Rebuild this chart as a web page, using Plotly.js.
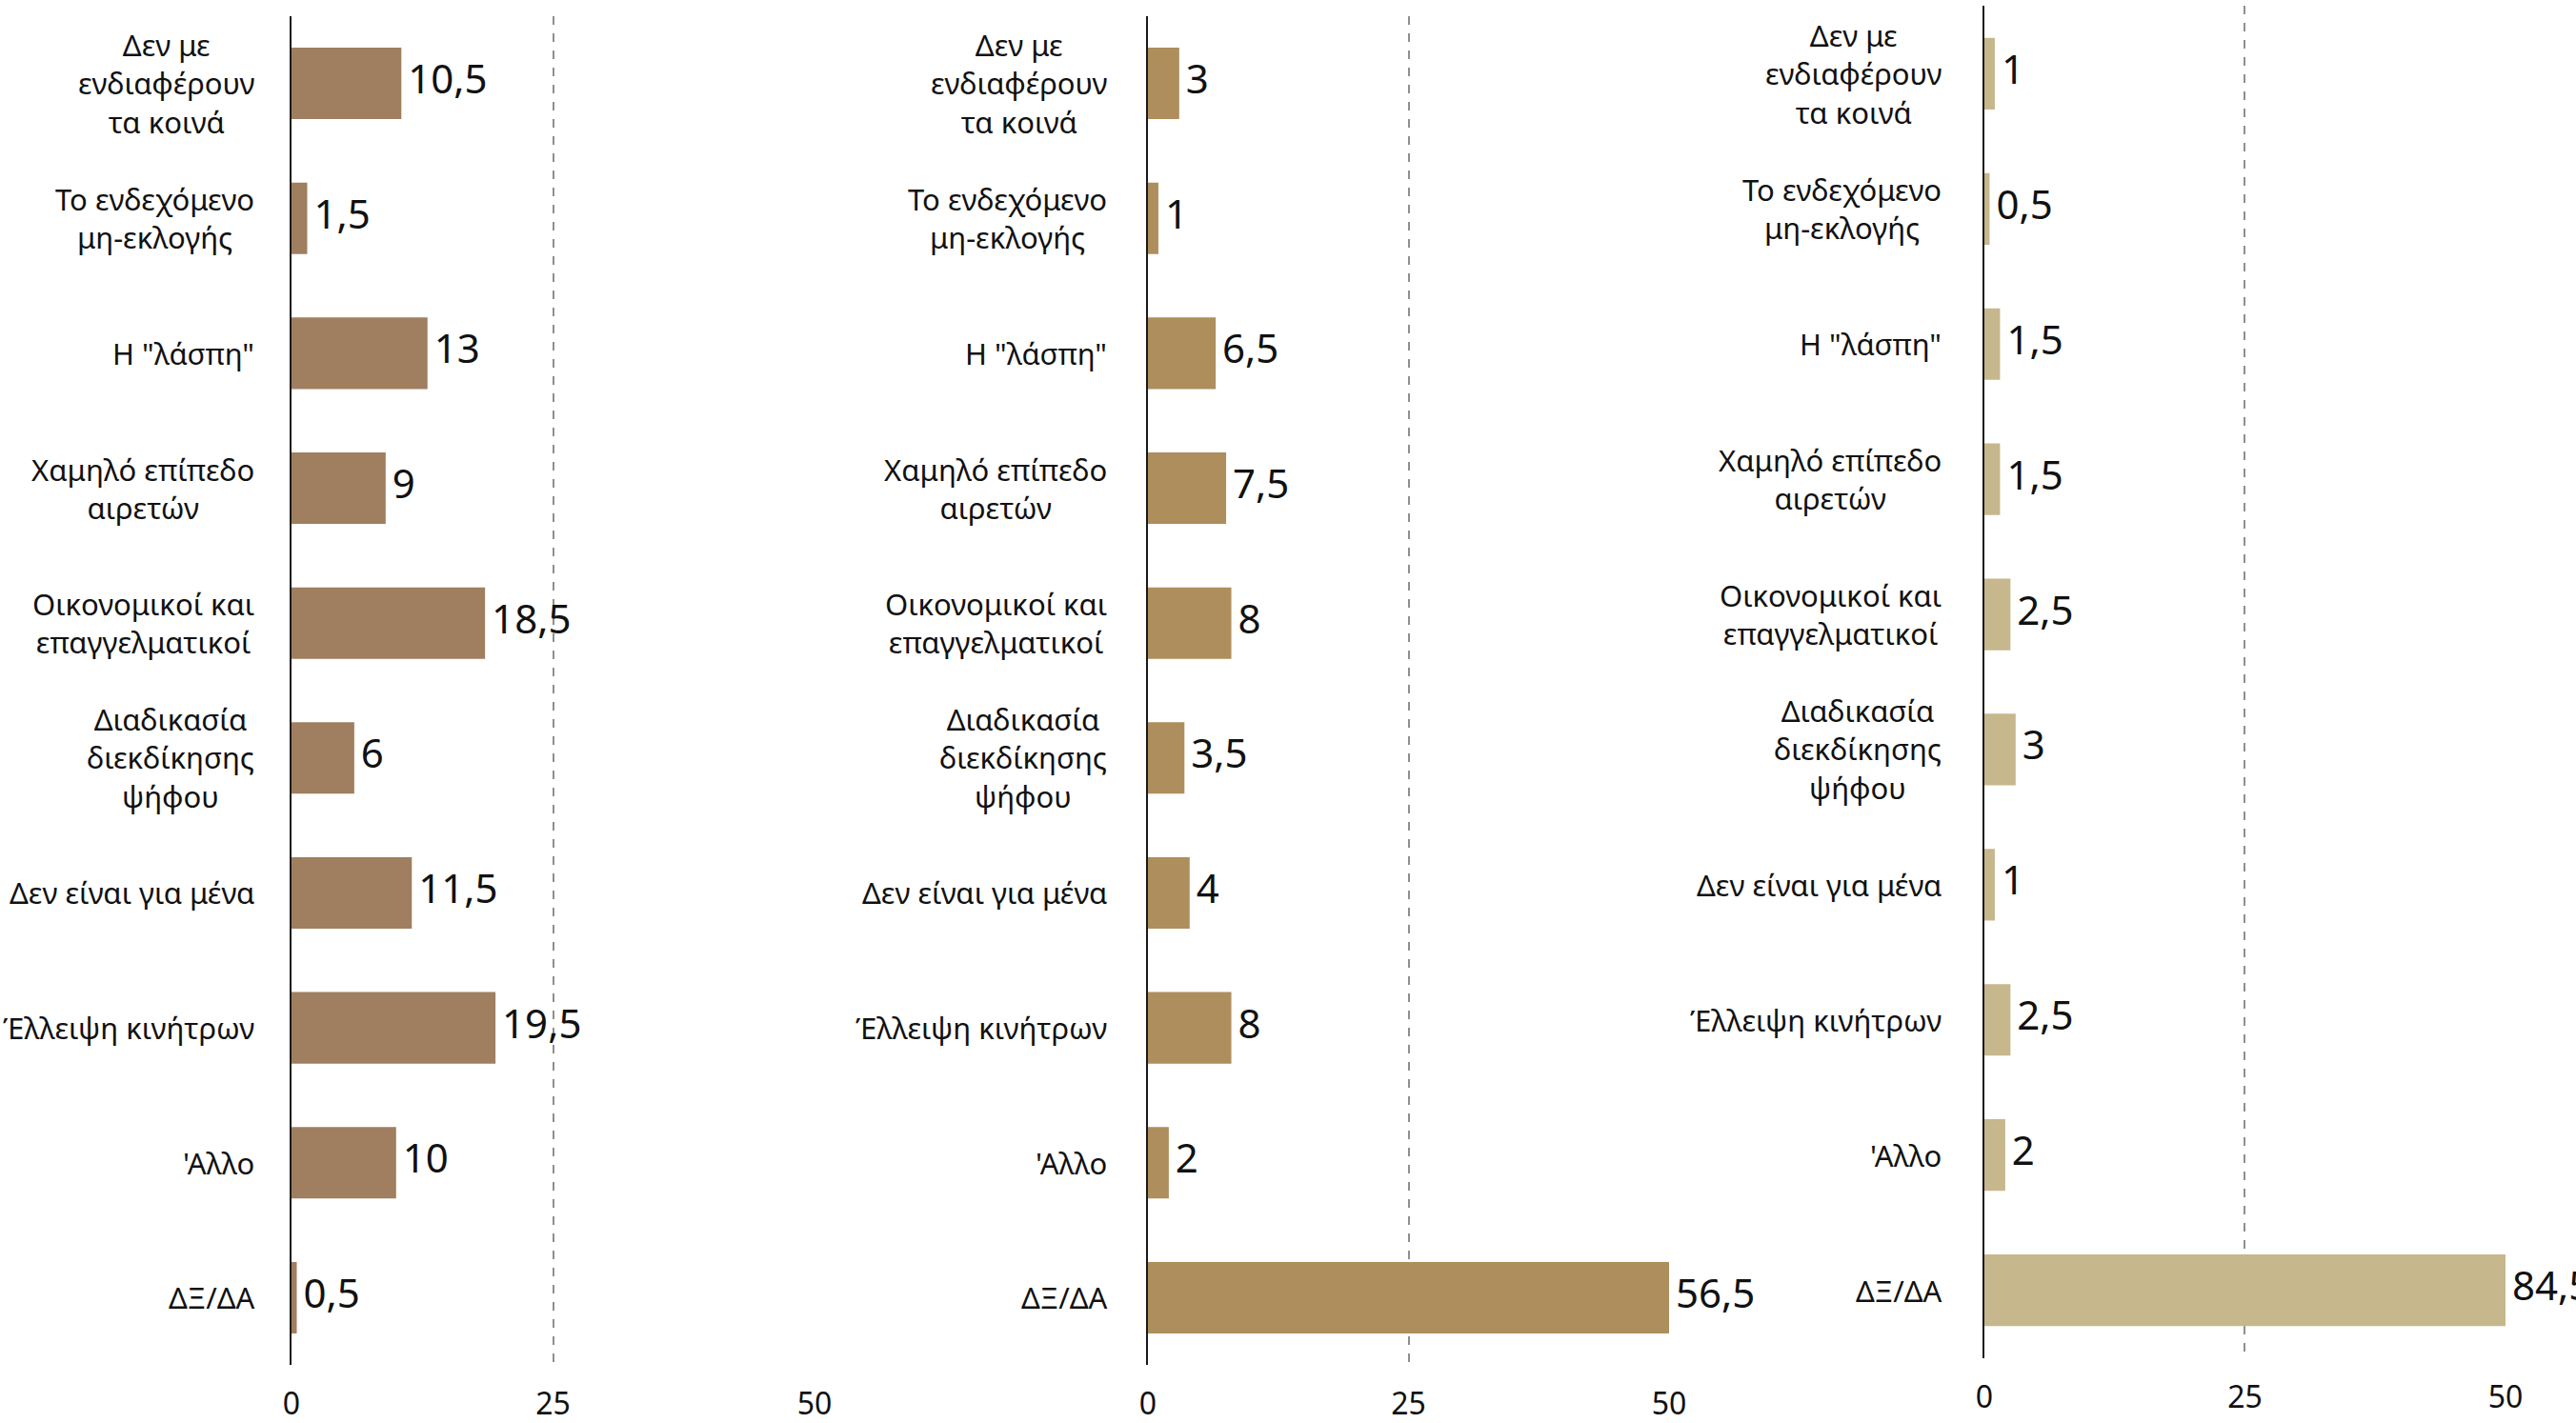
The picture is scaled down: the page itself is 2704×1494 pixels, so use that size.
<!DOCTYPE html>
<html>
<head>
<meta charset="utf-8">
<script src="https://cdn.plot.ly/plotly-3.0.1.min.js"></script>
<style>html,body{margin:0;padding:0;background:#fff;}#chart{width:2704px;height:1494px;}</style>
</head>
<body>
<div id="chart"></div>
<script>
const categories = [
  "Δεν με<br>ενδιαφέρουν<br>τα κοινά",
  "Το ενδεχόμενο<br>μη-εκλογής",
  "Η \"λάσπη\"",
  "Χαμηλό επίπεδο<br>αιρετών",
  "Οικονομικοί και<br>επαγγελματικοί",
  "Διαδικασία<br>διεκδίκησης<br>ψήφου",
  "Δεν είναι για μένα",
  "Έλλειψη κινήτρων",
  "'Αλλο",
  "ΔΞ/ΔΑ"
];
const valuesA = [10.5, 1.5, 13, 9, 18.5, 6, 11.5, 19.5, 10, 0.5];
const valuesB = [3, 1, 6.5, 7.5, 8, 3.5, 4, 8, 2, 56.5];
const valuesC = [1, 0.5, 1.5, 1.5, 2.5, 3, 1, 2.5, 2, 84.5];
const colors = ["#9F7F5F", "#AE8E5C", "#C6B78C"];
const xTicks = [0, 25, 50];
const xRange = [0, 50];

const FONT = "Noto Sans, Open Sans, DejaVu Sans, sans-serif";
const fmt = v => "\u2009" + String(v).replace(".", ",");

const series = [valuesA, valuesB, valuesC];
const axSuffix = ["", "2", "3"];
const traces = [];
series.forEach((vals, i) => {
  traces.push({
    type: "bar",
    orientation: "h",
    x: vals,
    y: categories,
    xaxis: "x" + axSuffix[i],
    yaxis: "y" + axSuffix[i],
    marker: {color: colors[i]},
    cliponaxis: true,
    hoverinfo: "x+y"
  });
  // value labels: placed at the visible end of each bar (bars beyond the axis are clipped)
  traces.push({
    type: "scatter",
    mode: "text",
    x: vals.map(v => Math.min(v, xRange[1])),
    y: categories,
    xaxis: "x" + axSuffix[i],
    yaxis: "y" + axSuffix[i],
    text: vals.map(fmt),
    textposition: "middle right",
    textfont: {family: FONT, size: 42, color: "#111"},
    cliponaxis: false,
    hoverinfo: "skip"
  });
});

const xDomains = [[0.11317, 0.31620], [0.44564, 0.64793], [0.77034, 0.97263]];
const yDomains = [[0.04063, 0.98882], [0.04063, 0.98882], [0.04585, 0.99565]];
const labelShift = [-37, -41, -43];

const layout = {
  width: 2704, height: 1494,
  margin: {l: 0, r: 0, t: 0, b: 0},
  paper_bgcolor: "#fff", plot_bgcolor: "#fff",
  showlegend: false,
  bargap: 0.47,
  separators: ",.",
  font: {family: FONT, color: "#111"},
  annotations: []
};

for (let i = 0; i < 3; i++) {
  const s = axSuffix[i];
  layout["xaxis" + s] = {
    domain: xDomains[i],
    anchor: "y" + s,
    range: xRange,
    tickvals: xTicks,
    ticktext: xTicks.map(String),
    showgrid: true,
    gridcolor: "#8f8f8f",
    gridwidth: 2,
    griddash: "dash",
    zeroline: false,
    showline: false,
    ticks: "",
    ticklabelstandoff: 19,
    tickfont: {family: FONT, size: 32, color: "#111"},
    fixedrange: true
  };
  layout["yaxis" + s] = {
    domain: yDomains[i],
    anchor: "x" + s,
    type: "category",
    categoryorder: "array",
    categoryarray: categories,
    autorange: "reversed",
    showticklabels: false,
    showgrid: false,
    zeroline: false,
    showline: true,
    linecolor: "#1a1a1a",
    linewidth: 2,
    ticks: "",
    fixedrange: true
  };
  categories.forEach(c => {
    layout.annotations.push({
      xref: "x" + s + " domain",
      yref: "y" + s,
      x: 0,
      y: c,
      text: c,
      xanchor: "right",
      yanchor: "middle",
      align: "center",
      xshift: labelShift[i],
      showarrow: false,
      font: {family: FONT, size: 31, color: "#111"}
    });
  });
}

Plotly.newPlot("chart", traces, layout, {displayModeBar: false, staticPlot: true});
</script>
</body>
</html>
